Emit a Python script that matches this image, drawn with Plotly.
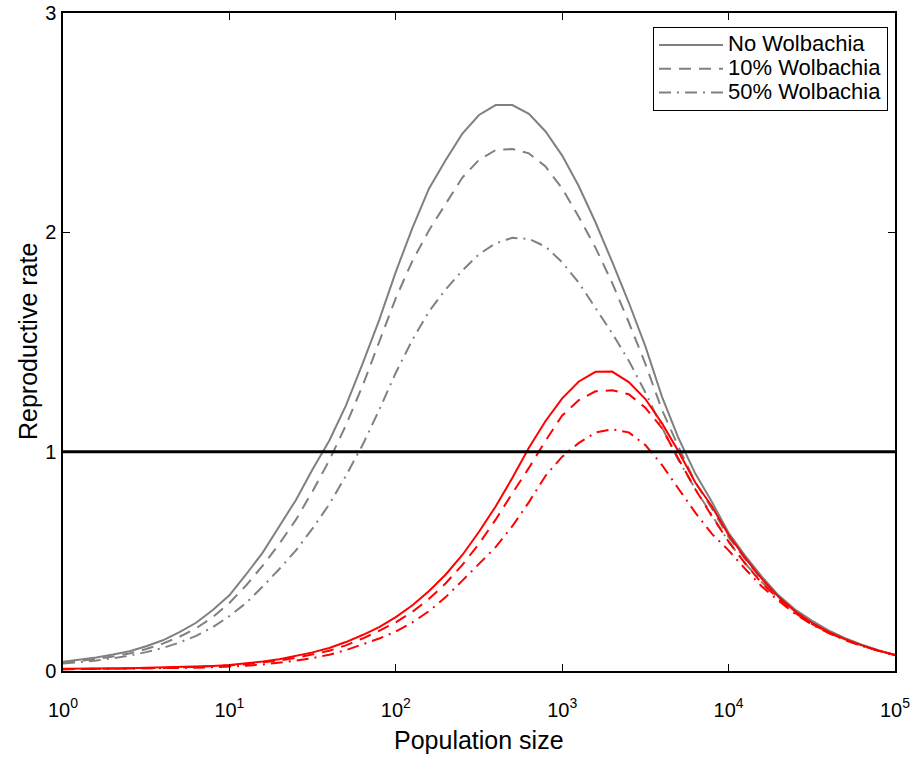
import plotly.graph_objects as go

# log10 of population size at which the curves were read (every 0.1 decade)
log_n = [0.0, 0.1, 0.2, 0.3, 0.4, 0.5, 0.6, 0.7, 0.8, 0.9,
         1.0, 1.1, 1.2, 1.3, 1.4, 1.5, 1.6, 1.7, 1.8, 1.9,
         2.0, 2.1, 2.2, 2.3, 2.4, 2.5, 2.6, 2.7, 2.8, 2.9,
         3.0, 3.1, 3.2, 3.3, 3.4, 3.5, 3.6, 3.7, 3.8, 3.9,
         4.0, 4.1, 4.2, 4.3, 4.4, 4.5, 4.6, 4.7, 4.8, 4.9, 5.0]
pop_size = [10 ** v for v in log_n]

gray_none = [0.042, 0.051, 0.062, 0.075, 0.090, 0.113, 0.140, 0.177, 0.220, 0.278,
             0.345, 0.44, 0.54, 0.66, 0.78, 0.92, 1.05, 1.21, 1.40, 1.60,
             1.82, 2.02, 2.20, 2.33, 2.45, 2.535, 2.58, 2.58, 2.54, 2.46,
             2.35, 2.21, 2.046, 1.866, 1.68, 1.48, 1.25, 1.06, 0.90, 0.77,
             0.63, 0.525, 0.43, 0.345, 0.28, 0.23, 0.185, 0.15, 0.12, 0.095, 0.073]
gray_10 = [0.037, 0.045, 0.055, 0.066, 0.080, 0.100, 0.125, 0.156, 0.195, 0.245,
           0.31, 0.39, 0.48, 0.58, 0.69, 0.82, 0.96, 1.12, 1.30, 1.50,
           1.70, 1.87, 2.01, 2.13, 2.25, 2.33, 2.375, 2.38, 2.36, 2.30,
           2.20, 2.07, 1.93, 1.77, 1.59, 1.40, 1.19, 1.02, 0.86, 0.74,
           0.61, 0.51, 0.415, 0.338, 0.275, 0.225, 0.183, 0.148, 0.119, 0.094, 0.073]
gray_50 = [0.034, 0.040, 0.048, 0.058, 0.070, 0.086, 0.105, 0.13, 0.16, 0.20,
           0.25, 0.31, 0.385, 0.465, 0.55, 0.65, 0.76, 0.89, 1.03, 1.19,
           1.36, 1.51, 1.64, 1.74, 1.826, 1.90, 1.95, 1.975, 1.97, 1.935,
           1.863, 1.77, 1.657, 1.54, 1.415, 1.27, 1.11, 0.96, 0.83, 0.71,
           0.59, 0.49, 0.405, 0.33, 0.27, 0.22, 0.18, 0.145, 0.118, 0.093, 0.073]
red_none = [0.010, 0.010, 0.011, 0.012, 0.013, 0.0145, 0.016, 0.018, 0.020, 0.023,
            0.027, 0.034, 0.043, 0.054, 0.068, 0.085, 0.105, 0.132, 0.164, 0.20,
            0.246, 0.30, 0.365, 0.44, 0.529, 0.635, 0.75, 0.88, 1.018, 1.14,
            1.243, 1.32, 1.364, 1.365, 1.317, 1.24, 1.129, 1.00, 0.859, 0.75,
            0.62, 0.515, 0.42, 0.338, 0.272, 0.22, 0.178, 0.145, 0.117, 0.093, 0.073]
red_10 = [0.008, 0.0085, 0.009, 0.010, 0.011, 0.0125, 0.014, 0.016, 0.018, 0.021,
          0.025, 0.031, 0.038, 0.048, 0.060, 0.075, 0.092, 0.117, 0.148, 0.183,
          0.222, 0.27, 0.329, 0.40, 0.484, 0.58, 0.69, 0.81, 0.926, 1.05,
          1.165, 1.235, 1.275, 1.28, 1.262, 1.20, 1.107, 0.965, 0.829, 0.705,
          0.59, 0.49, 0.40, 0.33, 0.265, 0.215, 0.175, 0.143, 0.115, 0.092, 0.073]
red_50 = [0.008, 0.0085, 0.009, 0.0095, 0.010, 0.011, 0.012, 0.0135, 0.015, 0.017,
          0.020, 0.024, 0.030, 0.038, 0.047, 0.059, 0.074, 0.095, 0.12, 0.148,
          0.18, 0.222, 0.273, 0.337, 0.412, 0.49, 0.565, 0.66, 0.77, 0.89,
          0.977, 1.04, 1.087, 1.102, 1.088, 1.03, 0.939, 0.83, 0.722, 0.625,
          0.55, 0.465, 0.385, 0.32, 0.26, 0.212, 0.173, 0.141, 0.114, 0.092, 0.073]

threshold = [1, 1]
threshold_x = [1, 1e5]

x_tickvals = [1, 10, 100, 1000, 10000, 100000]
x_ticktext = ["10<sup>0</sup>", "10<sup>1</sup>", "10<sup>2</sup>",
              "10<sup>3</sup>", "10<sup>4</sup>", "10<sup>5</sup>"]
y_tickvals = [0, 1, 2, 3]

legend_names = ["No Wolbachia", "10% Wolbachia", "50% Wolbachia"]

GRAY = "rgb(128,128,128)"
RED = "rgb(255,0,0)"
DASH = "12px,8px"
DASHDOT = "12px,6px,2px,6px"
FONT = "Liberation Sans, Arial, sans-serif"


def legend_label(name):
    return '<span style="font-size:22px">' + name + '</span>'


fig = go.Figure()
series = [
    (gray_none, GRAY, "solid", legend_label(legend_names[0]), True),
    (gray_10, GRAY, DASH, legend_label(legend_names[1]), True),
    (gray_50, GRAY, DASHDOT, legend_label(legend_names[2]), True),
    (red_none, RED, "solid", "red none", False),
    (red_10, RED, DASH, "red 10", False),
    (red_50, RED, DASHDOT, "red 50", False),
]
for ys, col, dash, name, show in series:
    fig.add_trace(go.Scatter(x=pop_size, y=ys, mode="lines", name=name,
                             showlegend=show,
                             line=dict(color=col, width=2, dash=dash)))

fig.add_trace(go.Scatter(x=threshold_x, y=threshold, mode="lines",
                         showlegend=False, line=dict(color="black", width=3)))

fig.update_layout(
    width=917, height=760,
    margin=dict(l=63, r=22, t=13, b=89, autoexpand=False),
    paper_bgcolor="white", plot_bgcolor="white",
    font=dict(family=FONT, size=20, color="black"),
    legend=dict(x=0.9916, y=0.9787, xanchor="right", yanchor="top",
                bgcolor="white", bordercolor="black", borderwidth=1,
                font=dict(family=FONT, size=16), itemwidth=64,
                tracegroupgap=0),
    xaxis=dict(type="log", range=[0, 5], tickvals=x_tickvals,
               ticktext=x_ticktext, ticks="inside", ticklen=7,
               tickcolor="black", showline=True, linecolor="black",
               linewidth=1.5, mirror="ticks", showgrid=False, zeroline=False,
               tickfont=dict(size=20), ticklabelstandoff=20, automargin=False),
    yaxis=dict(range=[0, 3], tickvals=y_tickvals, ticks="inside", ticklen=7,
               tickcolor="black", showline=True, linecolor="black",
               linewidth=1.5, mirror="ticks", showgrid=False, zeroline=False,
               tickfont=dict(size=20), ticklabelstandoff=1, automargin=False),
    annotations=[
        dict(text="Population size", xref="paper", yref="paper", x=0.5,
             y=0, yshift=-69, xanchor="center", yanchor="middle",
             showarrow=False, font=dict(size=25)),
        dict(text="Reproductive rate", xref="paper", yref="paper", x=0,
             xshift=-35, y=0.5, xanchor="center", yanchor="middle",
             textangle=-90, showarrow=False, font=dict(size=25)),
    ],
)

fig.write_html(
    "out.html",
    config={"displayModeBar": False},
    post_script="document.body.style.margin='0';"
                "document.body.style.overflow='hidden';",
)
